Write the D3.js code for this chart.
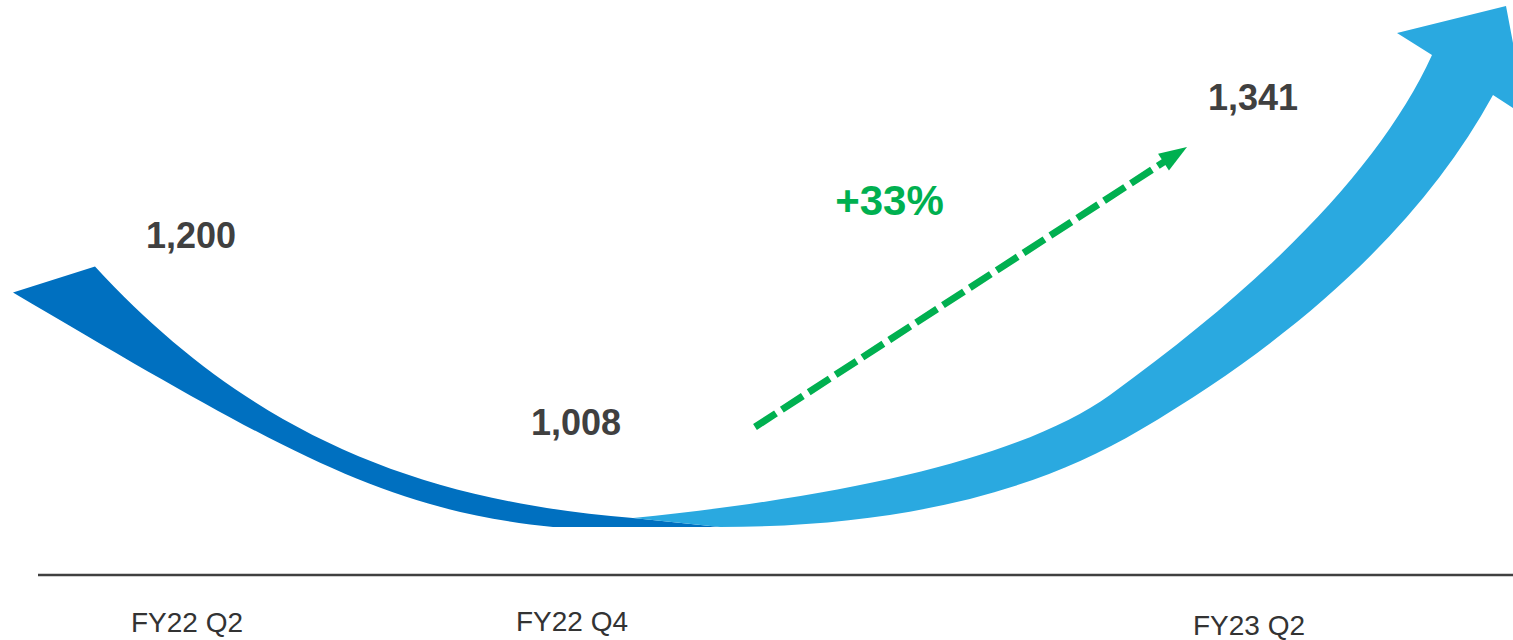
<!DOCTYPE html>
<html>
<head>
<meta charset="utf-8">
<script src="https://cdn.jsdelivr.net/npm/d3@7"></script>
<style>
  body { margin: 0; background: #fff; }
  svg { display: block; font-family: "Liberation Sans", Arial, sans-serif; }
</style>
</head>
<body>
<div id="chart"></div>
<script>
// data
const quarters = ["FY22 Q2", "FY22 Q4", "FY23 Q2"];
const values = [1200, 1008, 1341];
const growthLabel = "+33%";

const W = 1513, H = 640;
const svg = d3.select("#chart").append("svg").attr("width", W).attr("height", H);

// scales
const x = d3.scaleOrdinal().domain(quarters).range([187, 572, 1249]);
const yLabel = d3.scaleLinear().domain([1008, 1341]).range([435, 110]);   // value label baselines
const yFlow = d3.scaleLinear().domain([1008, 1341]).range([527, 75]);     // ribbon anchors

const fmt = d3.format(",");

// anchors of the ribbon: one per quarter
const A = quarters.map((q, i) => ({ x: x(q), y: yFlow(values[i]) }));
const P = (a, dx, dy) => [a.x + dx, a.y + dy];

// dark ribbon: FY22 Q2 -> FY22 Q4 (decline)
function darkRibbon() {
  const p = d3.path();
  const [a0, a1] = A;
  p.moveTo(...P(a0, -174, 26));
  p.bezierCurveTo(...P(a0, 96, 185), ...P(a1, -189, -17), ...P(a1, -19, 0));
  p.lineTo(...P(a1, 148, 0));
  p.lineTo(...P(a1, 61, -9));
  p.bezierCurveTo(...P(a1, -169, -27), ...P(a0, 53, 157), ...P(a0, -92, 0));
  p.closePath();
  return p.toString();
}

// light ribbon with arrow head: FY22 Q4 -> FY23 Q2 (growth)
function lightRibbon() {
  const p = d3.path();
  const [, a1, a2] = A;
  p.moveTo(...P(a1, 61, -9));
  p.bezierCurveTo(...P(a1, 298, -33), ...P(a2, -220, 378), ...P(a2, -139, 320));
  p.bezierCurveTo(...P(a2, 27, 200), ...P(a2, 134, 87), ...P(a2, 183, -20));
  p.lineTo(...P(a2, 148, -42));
  p.lineTo(...P(a2, 257, -69));
  p.lineTo(...P(a2, 278, 42));
  p.lineTo(...P(a2, 244, 20));
  p.bezierCurveTo(...P(a2, 176, 144), ...P(a2, 59, 256), ...P(a2, -109, 355));
  p.bezierCurveTo(...P(a2, -218, 420), ...P(a1, 319, 0), ...P(a1, 148, 0));
  p.closePath();
  return p.toString();
}

svg.append("path").attr("d", darkRibbon()).attr("fill", "#0070C0");
svg.append("path").attr("d", lightRibbon()).attr("fill", "#2AA9E0");

// baseline
svg.append("line")
  .attr("x1", 38).attr("x2", W)
  .attr("y1", 575).attr("y2", 575)
  .attr("stroke", "#404040").attr("stroke-width", 2.5);

// category labels (slightly staggered as in the original)
const catDy = [0, -1, 3];
svg.selectAll("text.cat")
  .data(quarters)
  .join("text")
  .attr("class", "cat")
  .attr("x", d => x(d))
  .attr("y", (d, i) => 632 + catDy[i])
  .attr("text-anchor", "middle")
  .style("font-size", "28px")
  .style("fill", "#333")
  .text(d => d);

// value labels
svg.selectAll("text.val")
  .data(values)
  .join("text")
  .attr("class", "val")
  .attr("x", (d, i) => x(quarters[i]) + 4)
  .attr("y", d => yLabel(d))
  .attr("text-anchor", "middle")
  .style("font-size", "36px")
  .style("font-weight", "bold")
  .style("fill", "#404040")
  .text(d => fmt(d));

// growth arrow (dashed) from FY22 Q4 level up to FY23 Q2 level
const g0 = [x(quarters[1]) + 183, yLabel(values[1]) - 8];
const g1 = [x(quarters[2]) - 62, yLabel(values[2]) + 37];
const dx = g1[0] - g0[0], dy = g1[1] - g0[1];
const len = Math.hypot(dx, dy);
const ux = dx / len, uy = dy / len;
const headLen = 28, headHalf = 10;
const base = [g1[0] - ux * headLen, g1[1] - uy * headLen];

svg.append("line")
  .attr("x1", g0[0]).attr("y1", g0[1])
  .attr("x2", base[0] + ux * 2).attr("y2", base[1] + uy * 2)
  .attr("stroke", "#00B050")
  .attr("stroke-width", 7)
  .attr("stroke-dasharray", "25 7");

svg.append("path")
  .attr("d", d3.line()([
    g1,
    [base[0] - uy * headHalf, base[1] + ux * headHalf],
    [base[0] + uy * headHalf, base[1] - ux * headHalf]
  ]) + "Z")
  .attr("fill", "#00B050");

svg.append("text")
  .attr("x", (x(quarters[1]) + x(quarters[2])) / 2 - 21)
  .attr("y", 215)
  .attr("text-anchor", "middle")
  .style("font-size", "42px")
  .style("font-weight", "bold")
  .style("fill", "#00B050")
  .text(growthLabel);
</script>
</body>
</html>
